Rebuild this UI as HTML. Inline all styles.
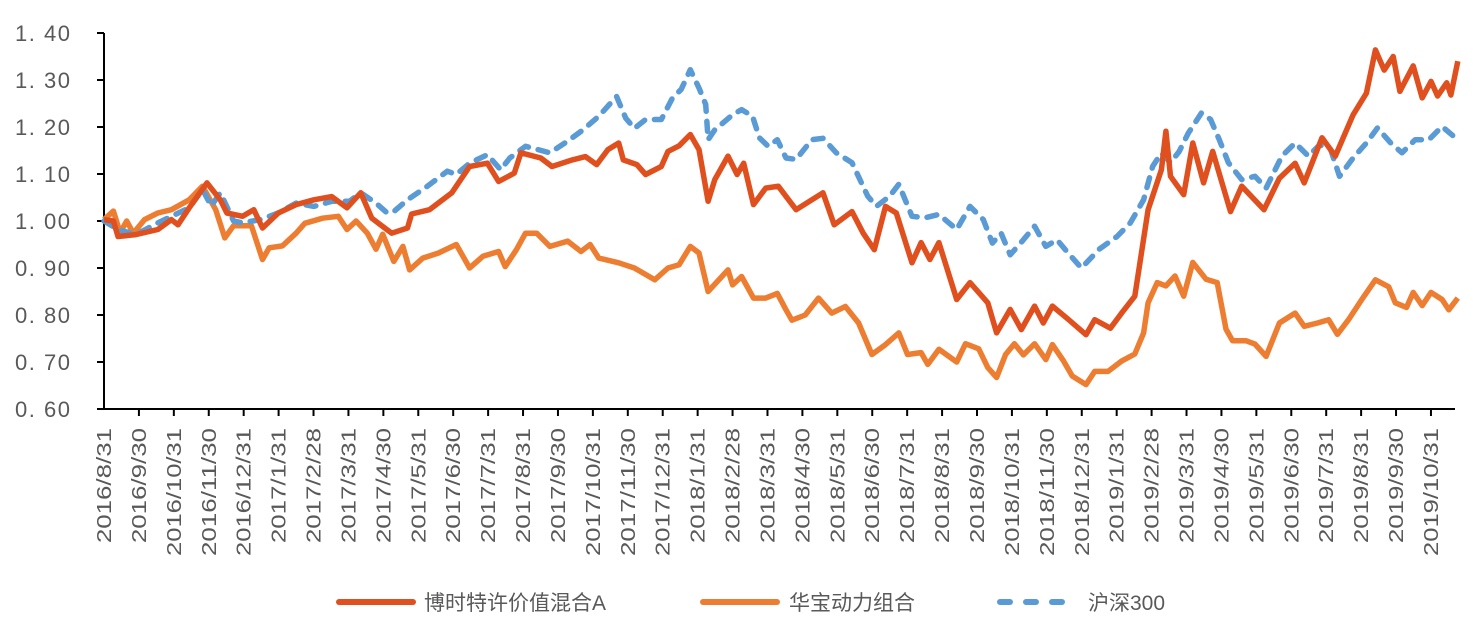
<!DOCTYPE html>
<html><head><meta charset="utf-8"><style>
body{margin:0;background:#fff;width:1473px;height:627px;overflow:hidden}
text{font-family:"Liberation Sans","Noto Sans CJK SC",sans-serif;fill:#595959}
</style></head><body>
<svg id="chart" width="1473" height="627" xmlns="http://www.w3.org/2000/svg"></svg>
<script>
const categories=["2016/8/31","2016/9/30","2016/10/31","2016/11/30","2016/12/31","2017/1/31","2017/2/28","2017/3/31","2017/4/30","2017/5/31","2017/6/30","2017/7/31","2017/8/31","2017/9/30","2017/10/31","2017/11/30","2017/12/31","2018/1/31","2018/2/28","2018/3/31","2018/4/30","2018/5/31","2018/6/30","2018/7/31","2018/8/31","2018/9/30","2018/10/31","2018/11/30","2018/12/31","2019/1/31","2019/2/28","2019/3/31","2019/4/30","2019/5/31","2019/6/30","2019/7/31","2019/8/31","2019/9/30","2019/10/31"];
const yTicks=[0.6,0.7,0.8,0.9,1.0,1.1,1.2,1.3,1.4];
const redMonths=[0,0.27,0.4,0.91,1.54,1.93,2.12,2.44,2.95,3.33,3.52,3.97,4.29,4.54,4.99,5.5,6.01,6.52,6.96,7.35,7.67,8.24,8.69,8.81,9.32,9.96,10.47,10.98,11.3,11.75,11.94,12.51,12.83,13.41,13.79,14.11,14.43,14.74,14.87,15.26,15.51,15.96,16.15,16.47,16.79,17.04,17.3,17.49,17.87,18.13,18.32,18.6,18.95,19.31,19.82,20.59,20.91,21.42,21.74,22.06,22.38,22.69,23.14,23.4,23.65,23.91,24.42,24.8,25.31,25.56,25.95,26.27,26.65,26.9,27.16,27.61,28.12,28.37,28.82,29.14,29.52,29.9,30.28,30.41,30.54,30.92,31.18,31.49,31.75,32.26,32.58,33.22,33.66,34.11,34.37,34.88,35.26,35.77,36.15,36.41,36.66,36.92,37.11,37.49,37.75,38.0,38.19,38.45,38.57,38.77];
const redValues=[1.003,1.0,0.967,0.971,0.982,1.003,0.992,1.028,1.081,1.045,1.017,1.01,1.024,0.985,1.017,1.035,1.045,1.052,1.028,1.06,1.006,0.974,0.985,1.015,1.024,1.06,1.116,1.123,1.084,1.102,1.145,1.134,1.116,1.13,1.137,1.12,1.152,1.166,1.13,1.12,1.099,1.116,1.148,1.16,1.184,1.152,1.042,1.088,1.138,1.099,1.123,1.035,1.07,1.074,1.024,1.06,0.992,1.02,0.974,0.939,1.031,1.017,0.911,0.954,0.918,0.954,0.833,0.869,0.826,0.762,0.812,0.769,0.819,0.783,0.819,0.791,0.758,0.79,0.772,0.804,0.84,1.024,1.109,1.191,1.095,1.056,1.166,1.081,1.148,1.02,1.074,1.024,1.091,1.123,1.081,1.177,1.138,1.226,1.272,1.364,1.321,1.35,1.276,1.33,1.262,1.297,1.266,1.294,1.268,1.34];
const orangeMonths=[0,0.27,0.46,0.65,0.84,1.16,1.54,1.93,2.44,2.82,3.2,3.46,3.71,4.22,4.54,4.73,5.11,5.5,5.75,6.26,6.71,6.96,7.22,7.54,7.79,7.98,8.3,8.56,8.75,9.13,9.58,10.09,10.47,10.85,11.3,11.49,11.81,12.07,12.39,12.77,13.28,13.66,13.92,14.17,14.74,15.19,15.77,16.15,16.47,16.79,17.04,17.3,17.87,18.0,18.26,18.6,18.95,19.28,19.53,19.7,20.08,20.46,20.84,21.23,21.61,21.99,22.38,22.76,23.01,23.4,23.59,23.91,24.42,24.67,25.05,25.31,25.56,25.82,26.07,26.33,26.65,26.97,27.16,27.48,27.73,28.12,28.37,28.75,29.14,29.52,29.77,29.9,30.16,30.41,30.67,30.92,31.18,31.56,31.88,32.13,32.32,32.71,32.96,33.28,33.66,34.11,34.37,34.75,35.07,35.32,35.64,36.02,36.41,36.79,36.98,37.3,37.49,37.75,38.0,38.32,38.51,38.77];
const orangeValues=[1.003,1.021,0.975,1.0,0.974,1.003,1.017,1.024,1.045,1.074,1.024,0.964,0.99,0.99,0.918,0.943,0.947,0.974,0.995,1.006,1.01,0.982,1.0,0.974,0.94,0.972,0.914,0.946,0.896,0.921,0.932,0.95,0.9,0.925,0.935,0.903,0.939,0.974,0.974,0.946,0.957,0.935,0.95,0.921,0.911,0.9,0.875,0.9,0.907,0.946,0.932,0.85,0.896,0.864,0.882,0.836,0.836,0.846,0.811,0.789,0.8,0.836,0.804,0.818,0.783,0.716,0.737,0.762,0.716,0.72,0.695,0.727,0.7,0.739,0.728,0.688,0.667,0.716,0.739,0.715,0.739,0.705,0.737,0.702,0.67,0.652,0.68,0.68,0.702,0.717,0.762,0.826,0.869,0.862,0.883,0.84,0.912,0.876,0.869,0.77,0.745,0.745,0.738,0.712,0.783,0.804,0.776,0.783,0.79,0.759,0.79,0.833,0.875,0.86,0.826,0.816,0.848,0.82,0.848,0.833,0.811,0.836];
const blueMonths=[0,0.4,0.91,1.54,1.93,2.44,2.82,3.07,3.33,3.71,3.97,4.48,4.99,5.5,6.01,6.52,7.03,7.35,7.79,8.11,8.3,8.69,9.26,9.83,10.09,10.47,10.98,11.36,11.62,12.07,12.77,13.28,13.72,14.17,14.68,14.94,15.19,15.51,15.96,16.28,16.53,16.79,17.04,17.23,17.3,17.49,18.0,18.26,18.57,18.77,19.02,19.28,19.53,19.82,20.27,20.59,20.97,21.42,21.87,22.12,22.5,22.76,23.14,23.52,23.91,24.42,24.8,25.18,25.44,25.69,25.95,26.33,26.65,26.97,27.29,27.61,27.99,28.5,29.01,29.39,29.77,30.03,30.28,30.54,30.79,31.05,31.43,31.69,31.94,32.2,32.58,32.96,33.28,33.73,34.11,34.49,34.81,35.13,35.38,35.77,36.15,36.47,36.85,37.17,37.55,37.94,38.32,38.7];
const blueValues=[1.0,0.982,0.971,0.996,1.01,1.028,1.067,1.032,1.06,1.0,0.996,1.003,1.017,1.038,1.031,1.042,1.042,1.06,1.038,1.017,1.02,1.045,1.074,1.106,1.099,1.123,1.141,1.109,1.134,1.159,1.145,1.17,1.194,1.223,1.265,1.219,1.197,1.216,1.216,1.262,1.28,1.322,1.283,1.248,1.173,1.194,1.226,1.237,1.223,1.177,1.159,1.173,1.134,1.131,1.173,1.176,1.145,1.124,1.053,1.031,1.053,1.078,1.01,1.007,1.014,0.982,1.031,1.003,0.953,0.974,0.928,0.96,0.989,0.946,0.96,0.932,0.9,0.94,0.967,0.996,1.045,1.116,1.145,1.124,1.148,1.187,1.23,1.216,1.173,1.124,1.088,1.095,1.07,1.138,1.166,1.138,1.162,1.152,1.095,1.134,1.166,1.198,1.166,1.145,1.173,1.173,1.201,1.177];

const svg=document.getElementById('chart');
const NS='http://www.w3.org/2000/svg';
const X0=104,X1=1455,Y0=409,Y1=33,STEP=34.92;
const xs=m=>X0+STEP*m;
const ys=v=>Y0-(v-0.6)/(1.4-0.6)*(Y0-Y1);
function mk(tag,attrs,parent){const e=document.createElementNS(NS,tag);for(const k in attrs)e.setAttribute(k,attrs[k]);(parent||svg).appendChild(e);return e;}

const yAxis=mk('g',{});


mk('line',{x1:X0,y1:Y1,x2:X0,y2:Y0,stroke:'#000','stroke-width':2},yAxis);
yTicks.forEach(v=>{
  mk('line',{x1:X0-7,x2:X0,y1:ys(v),y2:ys(v),stroke:'#000','stroke-width':2},yAxis);
  const t=mk('text',{x:15,y:ys(v)+8,'font-size':22,textLength:55,lengthAdjust:'spacing'},yAxis);
  
  
  t.textContent=v.toFixed(2).replace('.','. ');
});
const xAxis=mk('g',{});


mk('line',{x1:X0,y1:Y0,x2:X1,y2:Y0,stroke:'#000','stroke-width':2},xAxis);
categories.forEach((c,i)=>{
  const x=xs(i);
  if(i>0) mk('line',{x1:x,x2:x,y1:Y0,y2:Y0+7,stroke:'#000','stroke-width':2},xAxis);
  const t=mk('text',{x:0,y:0,'text-anchor':'end','font-size':20,transform:`translate(${x+7},428) rotate(-90)`,textLength:c.length*12.8,lengthAdjust:'spacingAndGlyphs'},xAxis);
  
  
  t.textContent=c;
});
function series(months,values,color,dash,name){
  const d=months.map((m,i)=>(i?'L':'M')+xs(m).toFixed(1)+','+ys(values[i]).toFixed(1)).join(' ');
  const p=mk('path',{d,fill:'none',stroke:color,'stroke-width':5.5,'stroke-linejoin':'round','stroke-linecap':dash?'round':'butt'});
  if(dash)p.setAttribute('stroke-dasharray',dash);
  
  
}
series(orangeMonths,orangeValues,'#ED7D31',null,'series-huabao-line');
series(blueMonths,blueValues,'#5B9BD5','10 10','series-hs300-line');
series(redMonths,redValues,'#E0501E',null,'series-boshi-line');

const lg=mk('g',{});


function legendEntry(x1,x2,tx,color,dash,label,name){
  const g=mk('g',{},lg);
  
  
  const l=mk('line',{x1,x2,y1:602,y2:602,stroke:color,'stroke-width':6,'stroke-linecap':'round'},g);
  if(dash)l.setAttribute('stroke-dasharray',dash);
  const t=mk('text',{x:tx,y:610,'font-size':21},g);
  t.textContent=label;
}
legendEntry(339,413,424,'#E0501E',null,'博时特许价值混合A','legend-entry-boshi');
legendEntry(703,777,789,'#ED7D31',null,'华宝动力组合','legend-entry-huabao');
legendEntry(1000,1069,1088,'#5B9BD5','10 16','沪深300','legend-entry-hs300');
</script>
</body></html>
